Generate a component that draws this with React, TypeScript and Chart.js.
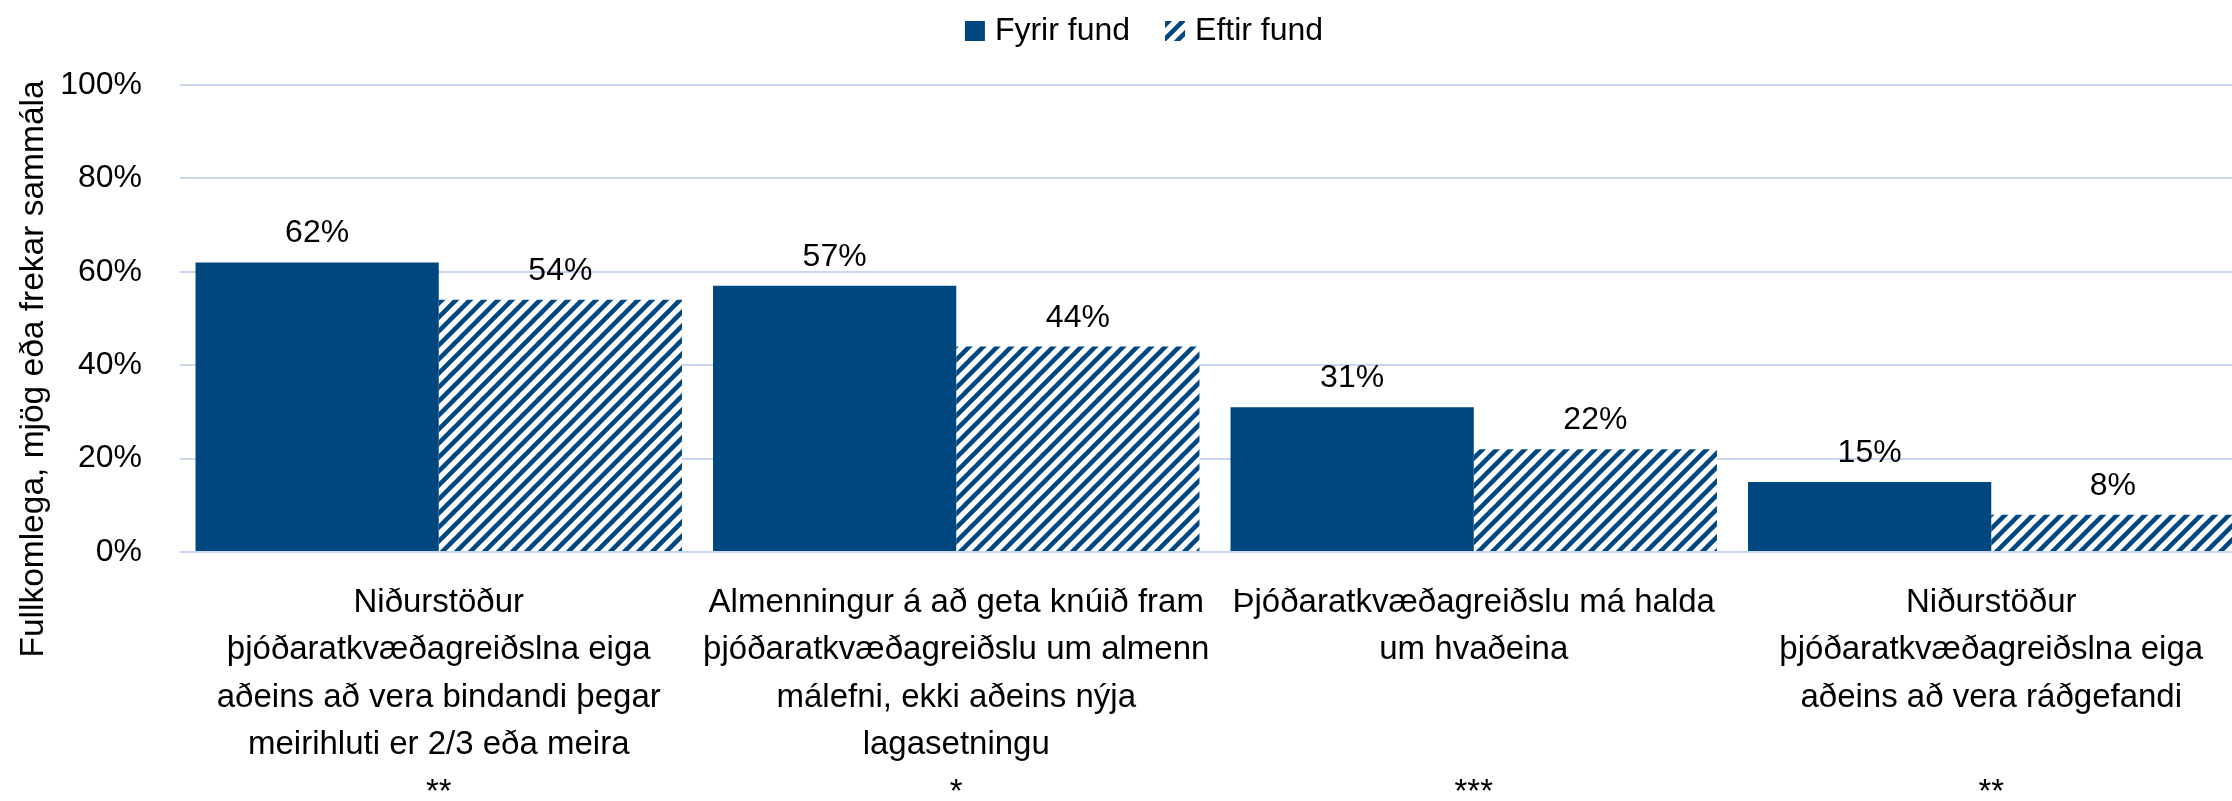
import React, { useEffect, useRef } from "react";
import { Chart, registerables } from "chart.js";

Chart.register(...registerables);

// ---------- data ----------
const categoryLines: string[][] = [
  ["Niðurstöður", "þjóðaratkvæðagreiðslna eiga", "aðeins að vera bindandi þegar", "meirihluti er 2/3 eða meira"],
  ["Almenningur á að geta knúið fram", "þjóðaratkvæðagreiðslu um almenn", "málefni, ekki aðeins nýja", "lagasetningu"],
  ["Þjóðaratkvæðagreiðslu má halda", "um hvaðeina"],
  ["Niðurstöður", "þjóðaratkvæðagreiðslna eiga", "aðeins að vera ráðgefandi"],
];
const significance: string[] = ["**", "*", "***", "**"];
const seriesNames: string[] = ["Fyrir fund", "Eftir fund"];
const fyrirFund: number[] = [62, 57, 31, 15];
const eftirFund: number[] = [54, 44, 22, 8];
const yMin = 0;
const yMax = 100;
const yStep = 20;
const yTitle = "Fullkomlega, mjög eða frekar sammála";

// ---------- style ----------
const BLUE = "#00467F";
const GRID = "#C9D6EF";
const TEXT = "#000000";
const FONT = "'Liberation Sans', Arial, sans-serif";
const FS = 32;

const labels = categoryLines.map((lines, i) => {
  const padded = [...lines];
  while (padded.length < 4) padded.push("");
  return [...padded, significance[i]];
});

function makeHatch(): CanvasPattern | string {
  const s = 14;
  const c = document.createElement("canvas");
  c.width = s;
  c.height = s;
  const g = c.getContext("2d");
  if (!g) return BLUE;
  g.fillStyle = "#ffffff";
  g.fillRect(0, 0, s, s);
  g.strokeStyle = BLUE;
  g.lineWidth = 4.5;
  g.beginPath();
  g.moveTo(-4, s + 4);
  g.lineTo(s + 4, -4);
  g.moveTo(-4, 4);
  g.lineTo(4, -4);
  g.moveTo(s - 4, s + 4);
  g.lineTo(s + 4, s - 4);
  g.stroke();
  const p = g.createPattern(c, "repeat");
  return p || BLUE;
}

export default function App() {
  const ref = useRef<HTMLCanvasElement | null>(null);

  useEffect(() => {
    const canvas = ref.current;
    if (!canvas) return;
    const hatch = makeHatch();

    const valueLabels = {
      id: "valueLabels",
      afterDatasetsDraw(chart: any) {
        const ctx = chart.ctx;
        ctx.save();
        ctx.font = `${FS}px ${FONT}`;
        ctx.fillStyle = TEXT;
        ctx.textAlign = "center";
        ctx.textBaseline = "alphabetic";
        chart.data.datasets.forEach((ds: any, i: number) => {
          const meta = chart.getDatasetMeta(i);
          meta.data.forEach((el: any, j: number) => {
            ctx.fillText(`${ds.data[j]}%`, el.x, el.y - 20);
          });
        });
        ctx.restore();
      },
    };

    const customLegend = {
      id: "customLegend",
      afterDraw(chart: any) {
        const ctx = chart.ctx;
        ctx.save();
        ctx.font = `${FS}px ${FONT}`;
        const box = 20;
        const gap = 10;
        const itemGap = 35;
        const widths = chart.data.datasets.map((ds: any) => ctx.measureText(ds.label).width);
        const total = widths.reduce((a: number, w: number) => a + box + gap + w, 0) + itemGap * (widths.length - 1);
        let x = 1144 - total / 2;
        const cy = 31;
        chart.data.datasets.forEach((ds: any, i: number) => {
          ctx.fillStyle = ds.backgroundColor;
          ctx.fillRect(x, cy - box / 2, box, box);
          ctx.fillStyle = TEXT;
          ctx.textAlign = "left";
          ctx.textBaseline = "middle";
          ctx.fillText(ds.label, x + box + gap, cy);
          x += box + gap + widths[i] + itemGap;
        });
        ctx.restore();
      },
    };

    const yAxisTitle = {
      id: "yAxisTitle",
      afterDraw(chart: any) {
        const ctx = chart.ctx;
        ctx.save();
        ctx.font = `33.5px ${FONT}`;
        ctx.fillStyle = TEXT;
        ctx.translate(43, 369);
        ctx.rotate(-Math.PI / 2);
        ctx.textAlign = "center";
        ctx.textBaseline = "alphabetic";
        ctx.fillText(yTitle, 0, 0);
        ctx.restore();
      },
    };

    const chart = new Chart(canvas, {
      type: "bar",
      data: {
        labels,
        datasets: [
          {
            label: seriesNames[0],
            data: fyrirFund,
            backgroundColor: BLUE,
            borderWidth: 0,
            categoryPercentage: 0.94,
            barPercentage: 1.0,
          },
          {
            label: seriesNames[1],
            data: eftirFund,
            backgroundColor: hatch as any,
            borderWidth: 0,
            categoryPercentage: 0.94,
            barPercentage: 1.0,
          },
        ],
      },
      options: {
        responsive: false,
        animation: false,
        devicePixelRatio: 1,
        layout: { padding: { top: 85, left: 0, right: 0, bottom: 0 } },
        plugins: {
          legend: { display: false },
          tooltip: { enabled: false },
          title: { display: false },
        },
        events: [],
        scales: {
          x: {
            grid: { display: false, drawTicks: false },
            border: { display: false },
            ticks: {
              autoSkip: false,
              maxRotation: 0,
              minRotation: 0,
              padding: 27,
              color: TEXT,
              font: { family: FONT, size: 33, lineHeight: 1.44 },
            },
            afterFit(scale: any) {
              scale.height = 249;
            },
          },
          y: {
            min: yMin,
            max: yMax,
            grid: { color: GRID, lineWidth: 2, drawTicks: false },
            border: { display: false },
            ticks: {
              stepSize: yStep,
              padding: 38,
              color: TEXT,
              font: { family: FONT, size: FS },
              callback: (v: any) => `${v}%`,
            },
            afterFit(scale: any) {
              scale.width = 180;
            },
          },
        },
      },
      plugins: [valueLabels, customLegend, yAxisTitle],
    });

    return () => {
      chart.destroy();
    };
  }, []);

  return (
    <div
      style={{
        position: "fixed",
        left: 0,
        top: 0,
        width: 2232,
        height: 801,
        overflow: "hidden",
        background: "#ffffff",
      }}
    >
      <canvas ref={ref} width={2250} height={801} style={{ display: "block", width: 2250, height: 801 }} />
    </div>
  );
}
